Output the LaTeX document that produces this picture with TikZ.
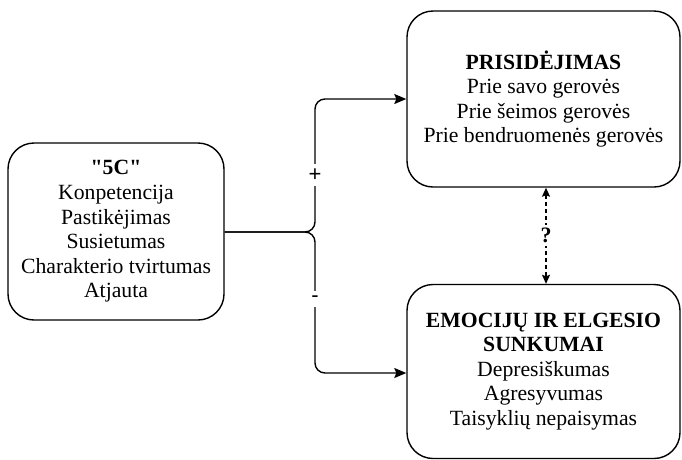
\documentclass[tikz,border=0pt]{standalone}
\usepackage{fontspec}
\setmainfont{Liberation Serif}
\newfontfamily\signfont{Liberation Sans}
\usetikzlibrary{arrows.meta}
\begin{document}
\begin{tikzpicture}[x=1pt,y=-1pt,
  box/.style={draw, line width=1.4pt, rounded corners=26pt, inner sep=0pt,
    align=center, font=\fontsize{21.7}{24.6}\selectfont},
  link/.style={line width=1.4pt, rounded corners=10pt,
    -{Stealth[length=12pt,width=10pt,inset=2pt]}},
  query/.style={line width=1.3pt, dash pattern=on 4pt off 3pt,
    {Stealth[length=9pt,width=8pt,inset=1.5pt]}-{Stealth[length=9pt,width=8pt,inset=1.5pt]}},
  sign/.style={fill=white, inner xsep=2pt, inner ysep=5pt, font=\signfont\fontsize{22}{22}\selectfont}
]
\useasboundingbox (0,0) rectangle (682,459);

% the three boxes
\node[box, minimum width=216pt, minimum height=177pt] (fivec) at (116,231.5)
  {{\addfontfeatures{Ligatures=TeXOff}\textbf{"5C"}}\\Konpetencija\\Pastikėjimas\\Susietumas\\Charakterio tvirtumas\\Atjauta};
\node[box, minimum width=273pt, minimum height=176pt] (contrib) at (543.5,99)
  {\textbf{PRISIDĖJIMAS}\\Prie savo gerovės\\Prie šeimos gerovės\\Prie bendruomenės gerovės};
\node[box, minimum width=273pt, minimum height=174pt] (diff) at (543.5,371.5)
  {\textbf{EMOCIJŲ IR ELGESIO}\\\textbf{SUNKUMAI}\\Depresiškumas\\Agresyvumas\\Taisyklių nepaisymas};

% branching connectors
\coordinate (fork) at (315,232);
\draw[link] (fivec.east |- fork) -- (fork) -- (fork |- contrib.west) -- (contrib.west);
\draw[link] (fivec.east |- fork) -- (fork) -- (315,373) -- (diff.west |- 0,373);

\node[sign] (plus) at (315,175) {+};
\node[sign] (minus) at (315,299) {-};

% open question between the outcomes
\draw[query] (contrib.south -| 546,0) -- (diff.north -| 546,0)
  node[midway, fill=white, inner xsep=1pt, inner ysep=3pt, font=\bfseries\fontsize{22}{22}\selectfont] (qmark) {?};
\end{tikzpicture}
\end{document}
